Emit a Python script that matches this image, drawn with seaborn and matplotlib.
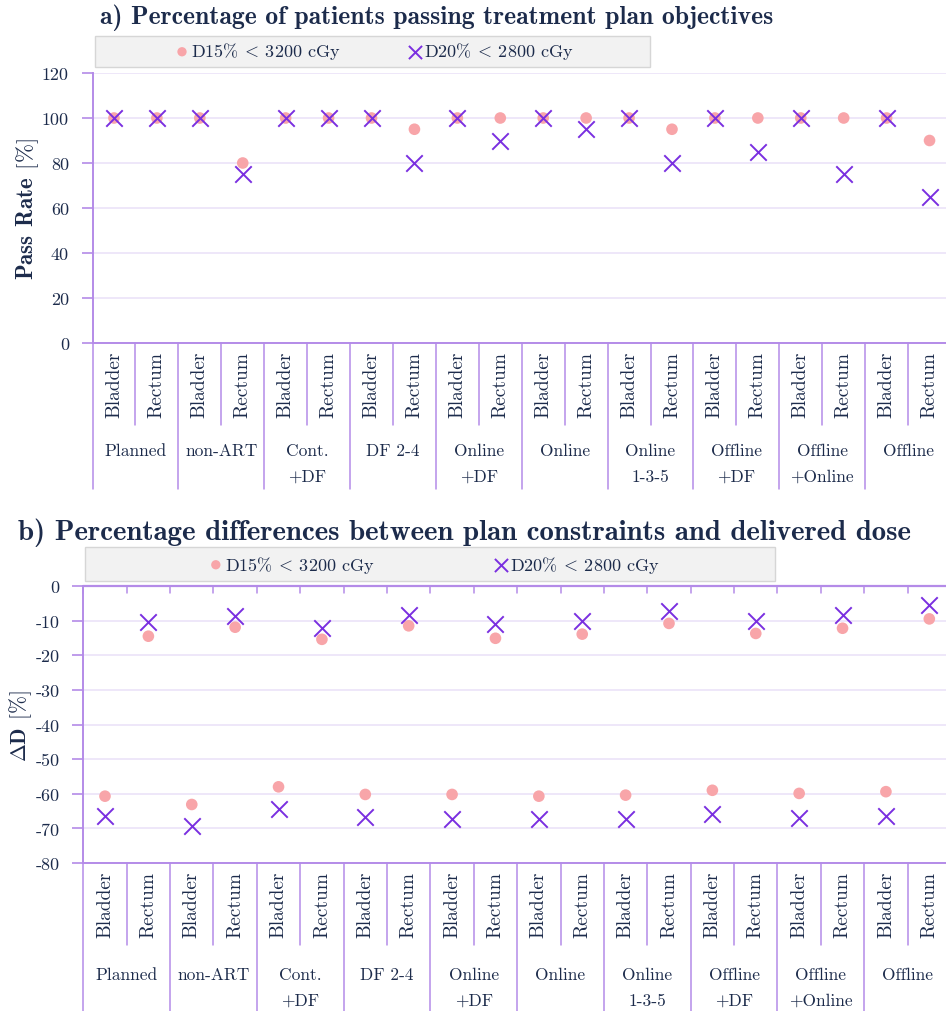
import matplotlib
matplotlib.use("Agg")
import matplotlib.pyplot as plt
from matplotlib.patches import Rectangle
import matplotlib.transforms as mtransforms
import seaborn as sns
import pandas as pd

# ---------------- data ----------------
groups = ["Planned", "non-ART", "Cont.\n+DF", "DF 2-4", "Online\n+DF", "Online",
          "Online\n1-3-5", "Offline\n+DF", "Offline\n+Online", "Offline"]
organs = ["Bladder", "Rectum"]

series_names = [r"D15% $\!<\!$ 3200 cGy", r"D20% $\!<\!$ 2800 cGy"]

# a) pass rate [%], order: group x (Bladder, Rectum)
pass_d15 = [100, 100, 100, 80, 100, 100, 100, 95, 100, 100,
            100, 100, 100, 95, 100, 100, 100, 100, 100, 90]
pass_d20 = [100, 100, 100, 75, 100, 100, 100, 80, 100, 90,
            100, 95, 100, 80, 100, 85, 100, 75, 100, 65]

# b) Delta D [%]
dd_d15 = [-60.7, -14.5, -63.1, -11.9, -58.0, -15.4, -60.2, -11.5, -60.2, -15.1,
          -60.7, -13.9, -60.4, -10.8, -59.0, -13.7, -59.9, -12.2, -59.4, -9.5]
dd_d20 = [-66.4, -10.3, -69.3, -8.6, -64.4, -12.2, -66.7, -8.4, -67.2, -11.1,
          -67.4, -10.0, -67.2, -7.1, -65.9, -10.0, -66.9, -8.4, -66.5, -5.5]

yticks_a = [0, 20, 40, 60, 80, 100, 120]
yticks_b = [-80, -70, -60, -50, -40, -30, -20, -10, 0]

title_a = "a) Percentage of patients passing treatment plan objectives"
title_b = "b) Percentage differences between plan constraints and delivered dose"
ylabel_a = r"$\mathbf{Pass\;\,Rate\;\,[\%]}$"
ylabel_b = r"$\mathbf{\Delta D\;\,[\%]}$"

# ---------------- style ----------------
sns.set_theme(style="white")
plt.rcParams["font.family"] = ["cmr10", "DejaVu Serif"]
plt.rcParams["mathtext.fontset"] = "cm"
plt.rcParams["axes.unicode_minus"] = False

TXT = "#1c2b4b"
AXC = "#b48be8"
GRID = "#ebe3f8"
PINK = "#f8a5a9"
PURP = "#7a2fe0"

W, H = 946, 1012
fig = plt.figure(figsize=(W / 100, H / 100), dpi=100)

n = len(groups) * len(organs)
pos = list(range(n))


def make_df(v1, v2):
    return pd.DataFrame({
        "pos": pos * 2,
        "value": list(v1) + list(v2),
        "series": [series_names[0]] * n + [series_names[1]] * n,
    })


def setup_axes(left_px, top_px, bottom_px, df, yticks, ylim, ylabel, ylabel_x,
               ylabel_size, title, title_xy, title_size, legend_box,
               legend_center, colspace, axis_at_top, gtop_px):
    ax = fig.add_axes([left_px / W, 1 - bottom_px / H, (951 - left_px) / W,
                       (bottom_px - top_px) / H])
    hpx = bottom_px - top_px
    d1 = df[df.series == series_names[0]]
    d2 = df[df.series == series_names[1]]
    sns.scatterplot(data=d1, x="pos", y="value", ax=ax, color=PINK, marker="o",
                    s=70, edgecolor="none", label=series_names[0], zorder=3)
    sns.scatterplot(data=d2, x="pos", y="value", ax=ax, color=PURP, marker="x",
                    s=140, linewidth=1.4, label=series_names[1], zorder=4)
    ax.set_xlim(-0.5, n - 0.5)
    ax.set_ylim(*ylim)
    ax.set_yticks(yticks)
    ax.set_yticklabels([str(v) for v in yticks], color=TXT, fontsize=13,
                       family="cmr10")
    ax.set_xticks([])
    ax.set_xlabel("")
    ax.set_ylabel("")
    ax.grid(axis="y", color=GRID, linewidth=1.2, zorder=0)
    ax.tick_params(axis="y", length=8, width=1.2, color=AXC, pad=9, left=True)
    for s in ["top", "right"]:
        ax.spines[s].set_visible(False)
    for s in ["left", "bottom"]:
        ax.spines[s].set_color(AXC)
        ax.spines[s].set_linewidth(1.4)
    ax.set_facecolor("white")
    trans = mtransforms.blended_transform_factory(ax.transData, ax.transAxes)
    # category separators
    short_end = -82 / hpx
    long_end = -146 / hpx if not axis_at_top else -150 / hpx
    for k in range(n):
        b = k - 0.5
        yend = long_end if k % 2 == 0 else short_end
        ax.plot([b, b], [0, yend], transform=trans, color=AXC, lw=1.1,
                clip_on=False, zorder=1)
        if axis_at_top:
            ax.plot([b, b], [1, 1 - 7 / hpx], transform=trans, color=AXC, lw=1.1,
                    clip_on=False, zorder=1)
    if axis_at_top:
        ax.plot([-0.5, n], [1, 1], transform=trans, color=AXC, lw=1.6,
                clip_on=False, zorder=2)
    # organ labels
    for k in range(n):
        ax.text(k, -8 / hpx, organs[k % 2], transform=trans, rotation=90,
                ha="center", va="top", fontsize=14, color=TXT, family="cmr10")
    # group labels
    for gi, g in enumerate(groups):
        ax.text(gi * 2 + 0.5, -gtop_px / hpx, g, transform=trans, ha="center",
                va="top", fontsize=12.5, color=TXT, family="cmr10",
                linespacing=1.85)
    # y label
    fig.text(ylabel_x / W, 1 - (top_px + bottom_px) / 2 / H, ylabel,
             rotation=90, ha="center", va="center", fontsize=ylabel_size,
             color=TXT)
    # title
    fig.text(title_xy[0] / W, 1 - title_xy[1] / H, title, ha="left",
             va="center", fontsize=title_size, color=TXT, family="cmb10")
    # legend box
    x0, y0, x1, y1 = legend_box
    fig.patches.append(Rectangle((x0 / W, 1 - y1 / H), (x1 - x0) / W,
                                 (y1 - y0) / H, transform=fig.transFigure,
                                 facecolor="#f2f2f2", edgecolor="#d6d6d6",
                                 linewidth=1.0, zorder=-1))
    handles, labels = ax.get_legend_handles_labels()
    leg = ax.legend(handles, labels, ncol=2, frameon=False, loc="center",
                    bbox_to_anchor=(legend_center[0] / W, 1 - legend_center[1] / H),
                    bbox_transform=fig.transFigure, columnspacing=colspace,
                    handletextpad=0.0, handlelength=1.0, markerscale=0.8,
                    prop={"size": 13, "family": "cmr10"}, labelcolor=TXT)
    leg.set_zorder(10)
    return ax


df_a = make_df(pass_d15, pass_d20)
df_b = make_df(dd_d15, dd_d20)

setup_axes(92.5, 74, 344, df_a, yticks_a, (0, 120), ylabel_a, 28, 16.5,
           title_a, (100, 18), 18.5, (95, 37, 650, 68), (373, 52), 3.6, False,
           100)
setup_axes(83.3, 587, 864, df_b, yticks_b, (-80, 0), ylabel_b, 21, 15.5,
           title_b, (18, 533), 20.8, (85, 548, 775, 582), (433, 565), 6.5, True,
           104)

fig.savefig("out.png", dpi=100, facecolor="white")
